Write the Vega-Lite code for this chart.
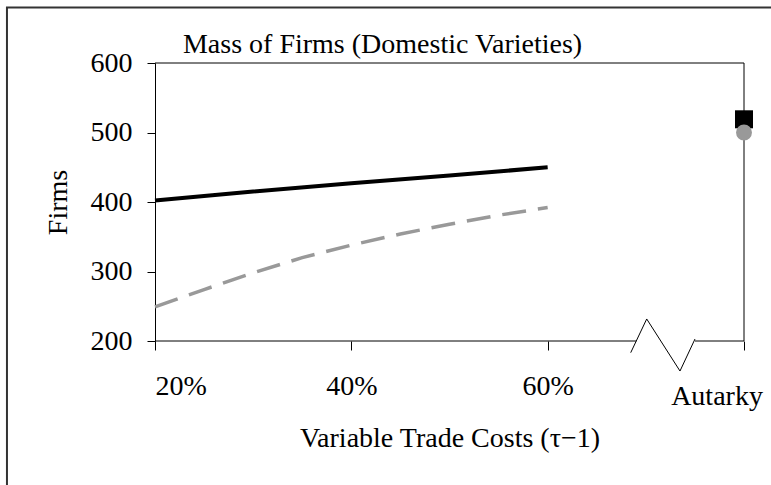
{
  "$schema": "https://vega.github.io/schema/vega-lite/v6.json",
  "width": 589,
  "height": 278,
  "autosize": {"type": "none"},
  "padding": {"left": 155, "top": 63, "right": 27, "bottom": 144},
  "background": "white",
  "config": {
    "view": {"stroke": null},
    "font": "Liberation Serif",
    "axis": {
      "labelFont": "Liberation Serif",
      "labelFontSize": 28,
      "labelColor": "black",
      "titleFont": "Liberation Serif",
      "titleFontSize": 28,
      "titleFontWeight": "normal",
      "titleColor": "black",
      "tickColor": "black",
      "tickWidth": 1,
      "domainColor": "black",
      "domainWidth": 1,
      "grid": false,
      "labelOverlap": false
    }
  },
  "datasets": {
    "firms": [
      {"cost": 20, "firms": 402, "series": "Solid"},
      {"cost": 30, "firms": 415, "series": "Solid"},
      {"cost": 40, "firms": 427, "series": "Solid"},
      {"cost": 50, "firms": 438, "series": "Solid"},
      {"cost": 60, "firms": 450, "series": "Solid"},
      {"cost": 20, "firms": 249, "series": "Dashed"},
      {"cost": 25, "firms": 274, "series": "Dashed"},
      {"cost": 30, "firms": 298, "series": "Dashed"},
      {"cost": 35, "firms": 320, "series": "Dashed"},
      {"cost": 40, "firms": 338, "series": "Dashed"},
      {"cost": 45, "firms": 354, "series": "Dashed"},
      {"cost": 50, "firms": 368, "series": "Dashed"},
      {"cost": 55, "firms": 381, "series": "Dashed"},
      {"cost": 60, "firms": 392, "series": "Dashed"}
    ],
    "autarky": [
      {"cost": 80, "firms": 519, "series": "Solid"},
      {"cost": 80, "firms": 500, "series": "Dashed"}
    ],
    "axisbreak": [
      {"cost": 68.46, "firms": 183.2},
      {"cost": 70.09, "firms": 231.7},
      {"cost": 73.48, "firms": 156.8},
      {"cost": 75.01, "firms": 202.9}
    ],
    "one": [{}]
  },
  "layer": [
    {
      "data": {"name": "one"},
      "mark": {"type": "rect", "fill": "white", "fillOpacity": 0, "stroke": "#333333", "strokeWidth": 2},
      "encoding": {
        "x": {"datum": 4.92, "type": "quantitative", "scale": {"domain": [20, 80], "nice": false, "zero": false},
          "axis": {"values": [20, 40, 60, 80], "labelExpr": "datum.value == 80 ? '' : datum.value + '%'", "domain": false, "ticks": true, "tickSize": 9, "labelPadding": 22, "title": "Variable Trade Costs (τ−1)", "titlePadding": 24}},
        "x2": {"datum": 100},
        "y": {"datum": 679.9, "type": "quantitative", "scale": {"domain": [200, 600], "nice": false, "zero": false},
          "axis": {"values": [200, 300, 400, 500, 600], "domain": true, "tickSize": 8, "labelPadding": 15, "title": "Firms", "titlePadding": 18}},
        "y2": {"datum": -100}
      }
    },
    {
      "data": {"name": "one"},
      "mark": {"type": "rule", "color": "black", "strokeWidth": 1},
      "encoding": {
        "x": {"datum": 20, "type": "quantitative", "scale": {"domain": [20, 80], "nice": false, "zero": false}},
        "x2": {"datum": 80},
        "y": {"datum": 600, "type": "quantitative", "scale": {"domain": [200, 600], "nice": false, "zero": false}}
      }
    },
    {
      "data": {"name": "one"},
      "mark": {"type": "rule", "color": "black", "strokeWidth": 1},
      "encoding": {
        "x": {"datum": 80, "type": "quantitative", "scale": {"domain": [20, 80], "nice": false, "zero": false}},
        "y": {"datum": 600, "type": "quantitative", "scale": {"domain": [200, 600], "nice": false, "zero": false}},
        "y2": {"datum": 200}
      }
    },
    {
      "data": {"name": "one"},
      "mark": {"type": "rule", "color": "black", "strokeWidth": 1},
      "encoding": {
        "x": {"datum": 20, "type": "quantitative", "scale": {"domain": [20, 80], "nice": false, "zero": false}},
        "x2": {"datum": 69.03},
        "y": {"datum": 200, "type": "quantitative", "scale": {"domain": [200, 600], "nice": false, "zero": false}}
      }
    },
    {
      "data": {"name": "one"},
      "mark": {"type": "rule", "color": "black", "strokeWidth": 1},
      "encoding": {
        "x": {"datum": 75.01, "type": "quantitative", "scale": {"domain": [20, 80], "nice": false, "zero": false}},
        "x2": {"datum": 80},
        "y": {"datum": 200, "type": "quantitative", "scale": {"domain": [200, 600], "nice": false, "zero": false}}
      }
    },
    {
      "data": {"name": "axisbreak"},
      "mark": {"type": "line", "color": "black", "strokeWidth": 1},
      "encoding": {
        "x": {"field": "cost", "type": "quantitative", "scale": {"domain": [20, 80], "nice": false, "zero": false}},
        "y": {"field": "firms", "type": "quantitative", "scale": {"domain": [200, 600], "nice": false, "zero": false}}
      }
    },
    {
      "data": {"name": "firms"},
      "transform": [{"filter": "datum.series == 'Dashed'"}],
      "mark": {"type": "line", "color": "#999999", "strokeWidth": 3.5, "strokeDash": [24, 12]},
      "encoding": {
        "x": {"field": "cost", "type": "quantitative", "scale": {"domain": [20, 80], "nice": false, "zero": false}},
        "y": {"field": "firms", "type": "quantitative", "scale": {"domain": [200, 600], "nice": false, "zero": false}}
      }
    },
    {
      "data": {"name": "firms"},
      "transform": [{"filter": "datum.series == 'Solid'"}],
      "mark": {"type": "line", "color": "black", "strokeWidth": 4},
      "encoding": {
        "x": {"field": "cost", "type": "quantitative", "scale": {"domain": [20, 80], "nice": false, "zero": false}},
        "y": {"field": "firms", "type": "quantitative", "scale": {"domain": [200, 600], "nice": false, "zero": false}}
      }
    },
    {
      "data": {"name": "autarky"},
      "transform": [{"filter": "datum.series == 'Solid'"}],
      "mark": {"type": "square", "color": "black", "filled": true, "opacity": 1, "size": 324},
      "encoding": {
        "x": {"field": "cost", "type": "quantitative", "scale": {"domain": [20, 80], "nice": false, "zero": false}},
        "y": {"field": "firms", "type": "quantitative", "scale": {"domain": [200, 600], "nice": false, "zero": false}}
      }
    },
    {
      "data": {"name": "autarky"},
      "transform": [{"filter": "datum.series == 'Dashed'"}],
      "mark": {"type": "circle", "color": "#999999", "opacity": 1, "size": 254},
      "encoding": {
        "x": {"field": "cost", "type": "quantitative", "scale": {"domain": [20, 80], "nice": false, "zero": false}},
        "y": {"field": "firms", "type": "quantitative", "scale": {"domain": [200, 600], "nice": false, "zero": false}}
      }
    },
    {
      "data": {"name": "one"},
      "mark": {"type": "text", "text": "Autarky", "font": "Liberation Serif", "fontSize": 28, "color": "black", "align": "center", "baseline": "alphabetic"},
      "encoding": {
        "x": {"datum": 77.25, "type": "quantitative", "scale": {"domain": [20, 80], "nice": false, "zero": false}},
        "y": {"datum": 107.9, "type": "quantitative", "scale": {"domain": [200, 600], "nice": false, "zero": false}}
      }
    },
    {
      "data": {"name": "one"},
      "mark": {"type": "text", "text": "Mass of Firms (Domestic Varieties)", "font": "Liberation Serif", "fontSize": 28, "color": "black", "align": "left", "baseline": "alphabetic"},
      "encoding": {
        "x": {"datum": 22.85, "type": "quantitative", "scale": {"domain": [20, 80], "nice": false, "zero": false}},
        "y": {"datum": 614.4, "type": "quantitative", "scale": {"domain": [200, 600], "nice": false, "zero": false}}
      }
    }
  ]
}
